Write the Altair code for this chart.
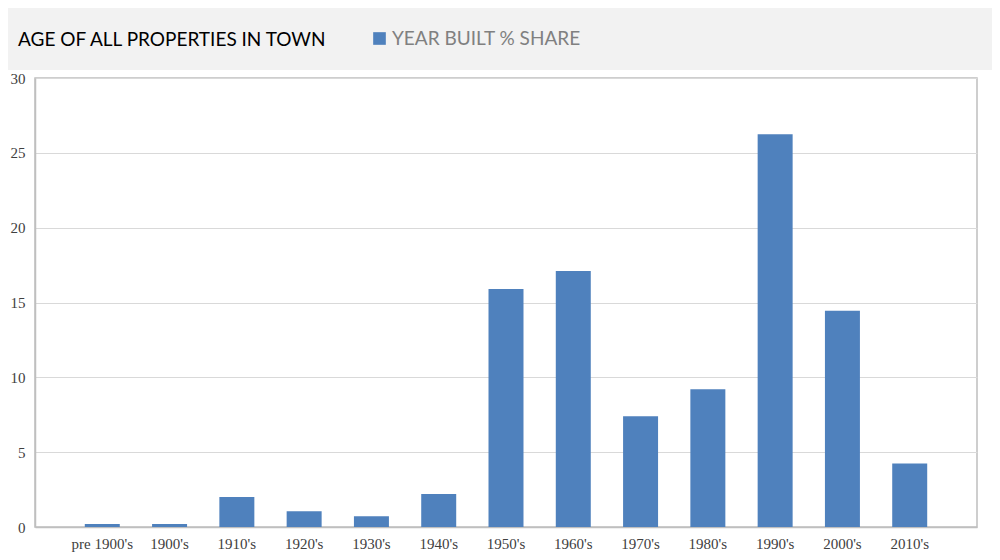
import altair as alt
import pandas as pd

categories = ["pre 1900's", "1900's", "1910's", "1920's", "1930's", "1940's",
              "1950's", "1960's", "1970's", "1980's", "1990's", "2000's", "2010's"]
shares = [0.2, 0.2, 2.0, 1.05, 0.72, 2.2, 15.9, 17.1, 7.4, 9.2, 26.25, 14.45, 4.25]
series_name = "YEAR BUILT % SHARE"
title_text = "AGE OF ALL PROPERTIES IN TOWN"

df = pd.DataFrame({"decade": categories, "share": shares, "series": series_name})
header = pd.DataFrame({"k": [0]})

head = alt.Chart(header).mark_rect(color="#f2f2f2").encode(
    x=alt.value(-27), x2=alt.value(957), y=alt.value(-70), y2=alt.value(-8)
)

bars = alt.Chart(df).mark_bar(color="#4f81bd").encode(
    x=alt.X("decade:N", sort=categories,
            scale=alt.Scale(paddingInner=0.48, paddingOuter=0.74),
            axis=alt.Axis(title=None, labelAngle=0, labelFont="Liberation Serif",
                          labelFontSize=15, labelColor="#404040", labelPadding=9,
                          ticks=False, domainColor="#bfbfbf", domainWidth=1.5,
                          grid=False)),
    y=alt.Y("share:Q", scale=alt.Scale(domain=[0, 30]),
            axis=alt.Axis(title=None, values=[0, 5, 10, 15, 20, 25, 30],
                          labelFont="Liberation Serif", labelFontSize=15,
                          labelColor="#404040", labelPadding=10, ticks=False,
                          domainColor="#bfbfbf", domainWidth=1.5,
                          gridColor="#d9d9d9", gridWidth=1)),
    color=alt.Color("series:N", scale=alt.Scale(range=["#4f81bd"]),
                    legend=alt.Legend(title=None, orient="none", legendX=335,
                                      legendY=-49, symbolType="square",
                                      symbolSize=160, symbolStrokeWidth=0,
                                      labelFont="Lato", labelFontSize=19,
                                      labelLimit=400,
                                      labelColor="#808080", labelOffset=3,
                                      zindex=2)),
)

chart = alt.layer(head, bars).properties(
    width=942, height=449,
    autosize=alt.AutoSizeParams(type="none"),
    padding={"left": 27, "top": 70, "right": 15, "bottom": 25},
    background="white",
    title=alt.TitleParams(title_text, anchor="start", dx=10, offset=-42,
                          font="Lato", fontSize=19, fontWeight="normal",
                          color="#000000", zindex=2),
).configure_view(stroke="#bfbfbf", strokeWidth=1.5)

chart.save("out.html", embed_options={"renderer": "svg", "actions": False})
